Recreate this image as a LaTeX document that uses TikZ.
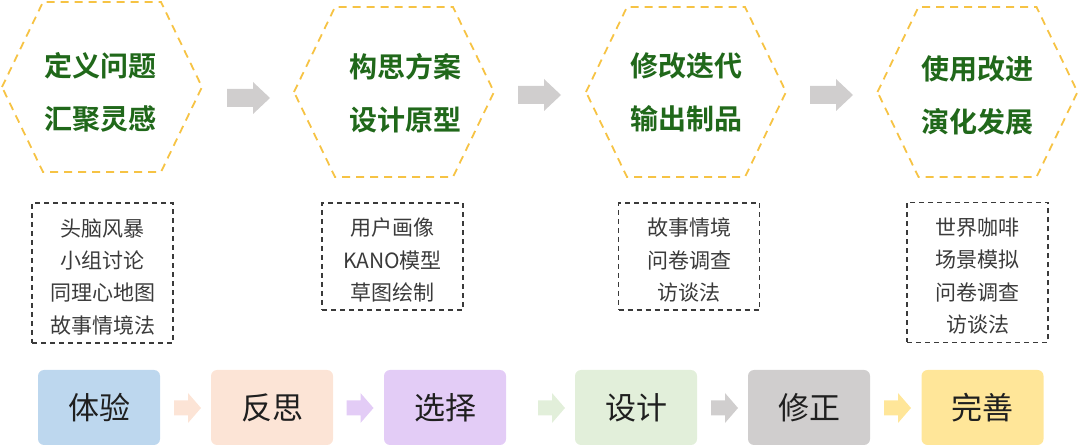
\documentclass[tikz,border=0pt]{standalone}
\usepackage{fontspec}
\setmainfont{Noto Sans CJK SC}[BoldFont={* Bold}]
\definecolor{hexline}{HTML}{F6C344}
\definecolor{hexgreen}{RGB}{32,104,26}
\definecolor{boxtext}{HTML}{3A3A3A}
\definecolor{bigarrow}{HTML}{D0CECE}
\definecolor{cblue}{HTML}{BDD7EE}
\definecolor{cpeach}{HTML}{FCE4D6}
\definecolor{clav}{HTML}{E3CCF6}
\definecolor{cgreen}{HTML}{E2EFDA}
\definecolor{cgray}{HTML}{D0CECE}
\definecolor{cyellow}{HTML}{FFE699}
\newcommand{\topstrut}{\rule{0pt}{25pt}}
\tikzset{
  hexpic/.pic={\draw[hexline, line width=1.8pt, dash pattern=on 8pt off 6pt]
     (-100,0) -- (-59,-85) -- (59,-85) -- (100,0) -- (59,85) -- (-59,85) -- cycle;},
  bigarrowpic/.pic={\fill[bigarrow] (0,-9) -- (26,-9) -- (26,-16) -- (43,0) -- (26,16) -- (26,9) -- (0,9) -- cycle;},
  smallarrowpic/.pic={\fill[pic actions] (-13.5,-7.5) -- (0.5,-7.5) -- (0.5,-15) -- (13.5,0) -- (0.5,15) -- (0.5,7.5) -- (-13.5,7.5) -- cycle;},
  hextext/.style={text=hexgreen, font=\fontsize{28}{53}\selectfont\bfseries, align=center, inner sep=0},
  methodbox/.style={draw=boxtext, line width=1.3pt, dash pattern=on 5pt off 4pt, text=boxtext,
     font=\fontsize{21}{32.3}\selectfont, align=center, minimum width=141pt, inner sep=0},
  stepbox/.style={rounded corners=6pt, minimum width=122pt, minimum height=75pt, inner sep=0,
     text=black!88, font=\fontsize{31}{31}\selectfont},
}
\begin{document}
\begin{tikzpicture}[x=1pt, y=-1pt]
\useasboundingbox (0,0) rectangle (1080,446);
% hexagons
\pic at (102,87) {hexpic};
\pic at (394,92) {hexpic};
\pic at (686,92) {hexpic};
\pic at (977.5,92) {hexpic};
\node[hextext] (h1) at (101,92) {定义问题\\汇聚灵感};
\node[hextext] (h2) at (405,93) {构思方案\\设计原型};
\node[hextext] (h3) at (686,92) {修改迭代\\输出制品};
\node[hextext] (h4) at (977,95) {使用改进\\演化发展};
% big arrows
\pic at (227,98) {bigarrowpic};
\pic at (518,95) {bigarrowpic};
\pic at (810,95) {bigarrowpic};
% method boxes
\node[methodbox, minimum height=140pt] (m1) at (102.5,273) {\topstrut 头脑风暴\\小组讨论\\同理心地图\\故事情境法};
\node[methodbox, minimum height=107pt] (m2) at (392.5,256.5) {\topstrut 用户画像\\KANO模型\\草图绘制};
\node[methodbox, minimum height=107pt] (m3) at (689,256.5) {\topstrut 故事情境\\问卷调查\\访谈法};
\node[methodbox, minimum height=140pt] (m4) at (977.5,272.5) {\topstrut 世界咖啡\\场景模拟\\问卷调查\\访谈法};
% bottom steps
\node[stepbox, fill=cblue] (s1) at (99,407.5) {体验};
\node[stepbox, fill=cpeach] (s2) at (272,407.5) {反思};
\node[stepbox, fill=clav] (s3) at (445,407.5) {选择};
\node[stepbox, fill=cgreen] (s4) at (636,407.5) {设计};
\node[stepbox, fill=cgray] (s5) at (809,407.5) {修正};
\node[stepbox, fill=cyellow] (s6) at (982.5,407.5) {完善};
\pic[fill=cpeach] at (187.5,408) {smallarrowpic};
\pic[fill=clav] at (360,408) {smallarrowpic};
\pic[fill=cgreen] at (551.5,408) {smallarrowpic};
\pic[fill=cgray] at (724.5,408) {smallarrowpic};
\pic[fill=cyellow] at (897.5,408) {smallarrowpic};
\end{tikzpicture}
\end{document}
